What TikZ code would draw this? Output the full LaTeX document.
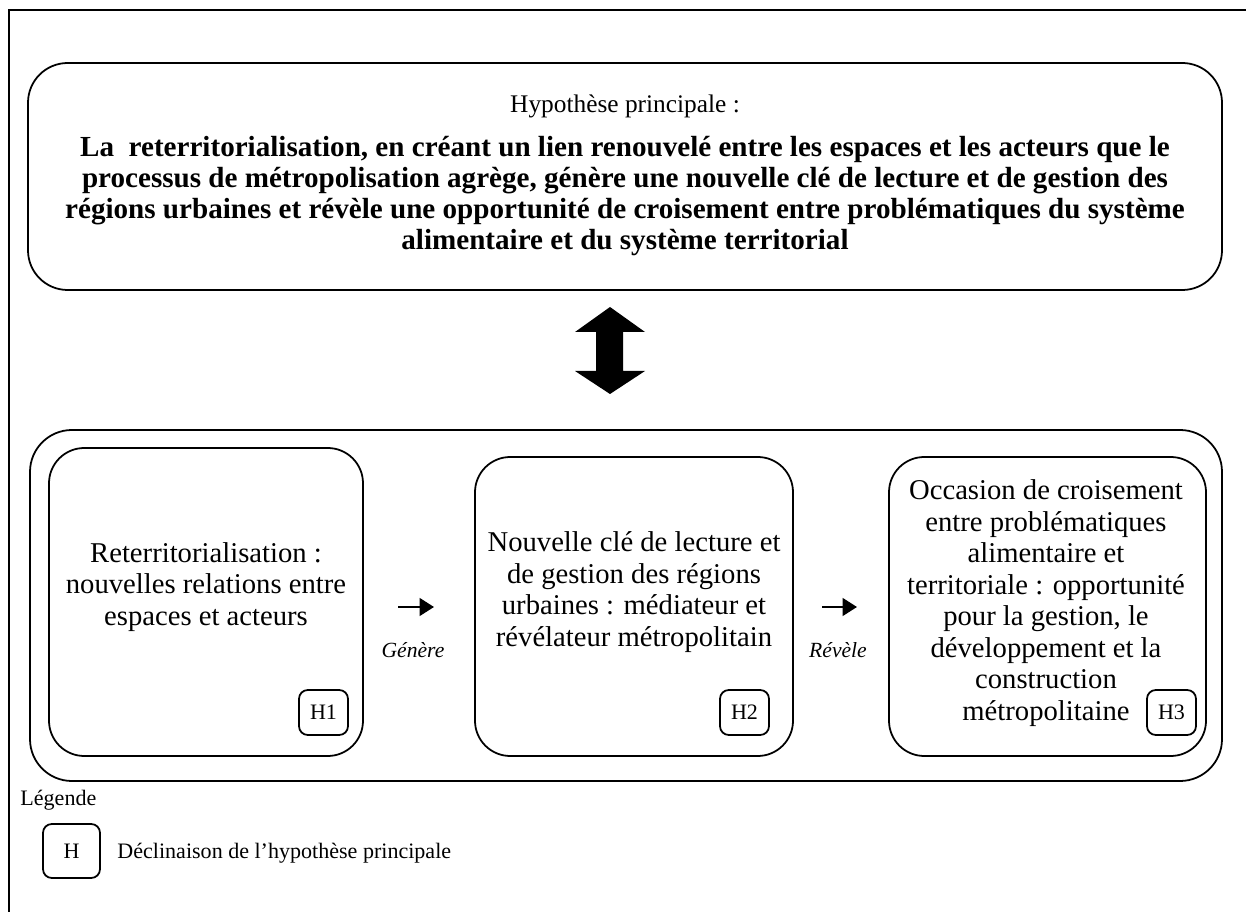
\documentclass[tikz,border=0pt]{standalone}
\usepackage{fontspec}
\setmainfont{Liberation Serif}
\usetikzlibrary{arrows.meta}

\newcommand{\pxl}{0.4535pt}

\begin{document}
\begin{tikzpicture}[x=\pxl, y=-\pxl,
  box/.style = {draw, line width=0.8pt, rounded corners=16pt, inner sep=0pt},
  hbox/.style = {draw, line width=0.8pt, rounded corners=4pt, inner sep=0pt,
    minimum width=49*\pxl, minimum height=45*\pxl, font=\fontsize{10}{12}\selectfont},
  txt/.style = {align=center, inner sep=0pt, font=\fontsize{13}{14.3}\selectfont},
  verb/.style = {inner sep=0pt, font=\fontsize{9.8}{12}\selectfont\itshape},
  small/.style = {inner sep=0pt, font=\fontsize{10}{12}\selectfont},
  flow/.style = {line width=1pt, -{Triangle[length=6.5pt, width=8pt]}}]
  \useasboundingbox (0,0) rectangle (1246,912);

  % frame
  \draw[line width=1.3pt] (9,912) -- (9,10) -- (1246,10);

  % main hypothesis
  \node[box, rounded corners=18pt, minimum width=1194*\pxl, minimum height=227*\pxl] (main) at (625,176.5) {};
  \node[txt, font=\fontsize{11.5}{14}\selectfont] (hyp) at (625,106) {Hypothèse principale~:};
  \node[txt, font=\fontsize{13.2}{14.2}\selectfont\bfseries] (hyptxt) at (625,196)
    {La\ \ reterritorialisation, en créant un lien renouvelé entre les espaces et les acteurs que le\\
     processus de métropolisation agrège, génère une nouvelle clé de lecture et de gestion des\\
     régions urbaines et révèle une opportunité de croisement entre problématiques du système\\
     alimentaire et du système territorial};

  % double arrow
  \fill (610,307) -- (645,332) -- (623,332) -- (623,371) -- (645,371) -- (610,394)
    -- (575,371) -- (596,371) -- (596,332) -- (575,332) -- cycle;

  % declined hypotheses
  \node[box, rounded corners=19pt, minimum width=1192*\pxl, minimum height=351*\pxl] (outer) at (626,605.5) {};
  \node[box, minimum width=314*\pxl, minimum height=308*\pxl] (reterr) at (206,602) {};
  \node[box, minimum width=318*\pxl, minimum height=299*\pxl] (cle) at (634,606.5) {};
  \node[box, minimum width=317*\pxl, minimum height=299*\pxl] (occas) at (1047.5,606.5) {};

  \node[txt] (t1) at (206,587) {Reterritorialisation~:\\ nouvelles relations entre\\ espaces et acteurs};
  \node[txt] (t2) at (634,592) {Nouvelle clé de lecture et\\ de gestion des régions\\
    urbaines~: médiateur et\\ révélateur métropolitain};
  \node[txt] (t3) at (1046,603) {Occasion de croisement\\ entre problématiques\\ alimentaire et\\
    territoriale~: opportunité\\ pour la gestion, le\\ développement et la\\ construction\\ métropolitaine};

  \node[hbox] (h1) at (323.5,712.5) {H1};
  \node[hbox] (h2) at (744.5,712.5) {H2};
  \node[hbox] (h3) at (1171.5,712.5) {H3};

  % links
  \coordinate (g1) at (398,607);
  \coordinate (g2) at (434,607);
  \coordinate (r1) at (822,607);
  \coordinate (r2) at (857,607);
  \draw[flow] (g1) -- (g2);
  \draw[flow] (r1) -- (r2);
  \node[verb] (gen) at (413,650) {Génère};
  \node[verb] (rev) at (838,650) {Révèle};

  % legend
  \node[small, anchor=west] (leg) at (20,800) {Légende};
  \node[hbox, minimum width=57*\pxl, minimum height=54*\pxl] (hleg) at (71.5,851) {H};
  \node[small, anchor=west] (legtxt) at (117,853) {Déclinaison de l’hypothèse principale};
\end{tikzpicture}
\end{document}
